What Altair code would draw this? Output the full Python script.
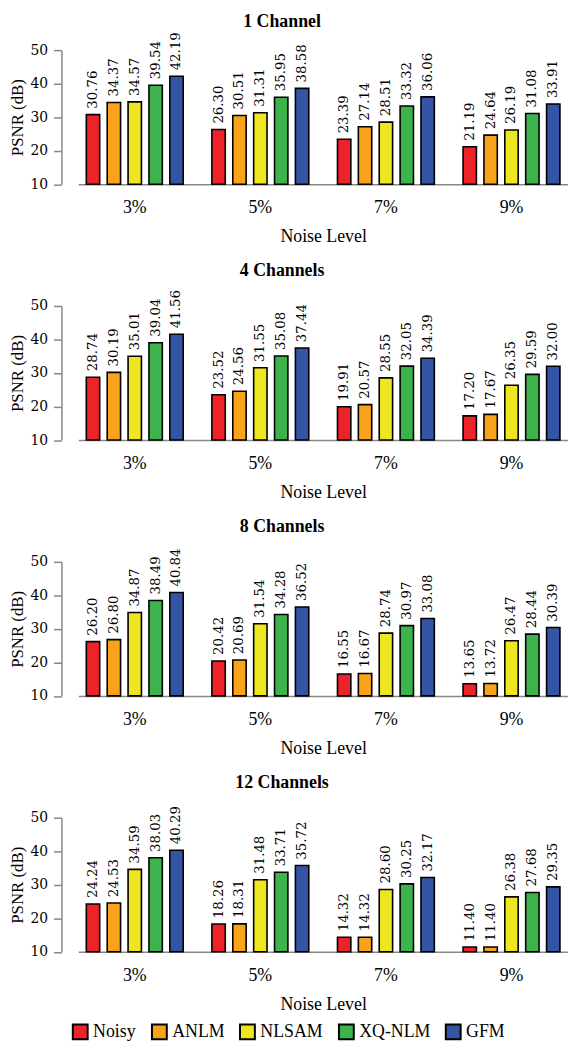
import altair as alt
import pandas as pd

methods = ["Noisy", "ANLM", "NLSAM", "XQ-NLM", "GFM"]
levels = ["3%", "5%", "7%", "9%"]
colors = ["#EE2229", "#F8A31B", "#EEE620", "#3CB44B", "#3454A5"]
panel_titles = ["1 Channel", "4 Channels", "8 Channels", "12 Channels"]

# values per noise level: Noisy, ANLM, NLSAM, XQ-NLM, GFM
ch1 = [
    [30.76, 34.37, 34.57, 39.54, 42.19],
    [26.30, 30.51, 31.31, 35.95, 38.58],
    [23.39, 27.14, 28.51, 33.32, 36.06],
    [21.19, 24.64, 26.19, 31.08, 33.91],
]
ch4 = [
    [28.74, 30.19, 35.01, 39.04, 41.56],
    [23.52, 24.56, 31.55, 35.08, 37.44],
    [19.91, 20.57, 28.55, 32.05, 34.39],
    [17.20, 17.67, 26.35, 29.59, 32.00],
]
ch8 = [
    [26.20, 26.80, 34.87, 38.49, 40.84],
    [20.42, 20.69, 31.54, 34.28, 36.52],
    [16.55, 16.67, 28.74, 30.97, 33.08],
    [13.65, 13.72, 26.47, 28.44, 30.39],
]
ch12 = [
    [24.24, 24.53, 34.59, 38.03, 40.29],
    [18.26, 18.31, 31.48, 33.71, 35.72],
    [14.32, 14.32, 28.60, 30.25, 32.17],
    [11.40, 11.40, 26.38, 27.68, 29.35],
]
y_ticks = [10, 20, 30, 40, 50]

SERIF = "Liberation Serif"
NUM = "DejaVu Serif"


def panel(title, vals, show_legend, title_gap):
    rows = []
    for li, lvl in enumerate(levels):
        for mi, m in enumerate(methods):
            rows.append({"level": lvl, "method": m, "psnr": vals[li][mi]})
    df = pd.DataFrame(rows)
    base = alt.Chart(df).encode(
        x=alt.X(
            "level:N",
            sort=levels,
            scale=alt.Scale(paddingInner=0.2, paddingOuter=0.05),
            axis=alt.Axis(title="Noise Level", labelAngle=0, ticks=False,
                          domainColor="#888888", domainWidth=1.5,
                          labelFont=SERIF, labelFontSize=18, labelPadding=15,
                          labelColor="black",
                          titleFont=SERIF, titleFontSize=18, titleFontWeight="normal",
                          titlePadding=11, titleColor="black"),
        ),
        xOffset=alt.XOffset("method:N", sort=methods,
                            scale=alt.Scale(paddingInner=0.36, paddingOuter=0.086)),
        y=alt.Y(
            "psnr:Q",
            scale=alt.Scale(domain=[10, 50], zero=False, nice=False),
            axis=alt.Axis(values=y_ticks, title="PSNR (dB)", grid=False, offset=17,
                          labelOverlap=False,
                          domainColor="#888888", domainWidth=1.5,
                          tickColor="#888888", tickWidth=1.5, tickSize=8,
                          labelFont=NUM, labelFontSize=14, labelPadding=6,
                          labelColor="black",
                          titleFont=SERIF, titleFontSize=17, titleFontWeight="normal",
                          titlePadding=4, titleColor="black"),
        ),
    )
    if show_legend:
        legend = alt.Legend(
            title=None, orient="none", direction="horizontal", columns=5,
            legendX=-7, legendY=983,
            symbolType="square", symbolSize=225, symbolStrokeColor="black",
            symbolStrokeWidth=2, symbolOpacity=1,
            labelFont=SERIF, labelFontSize=18, labelColor="black",
            labelOffset=4, columnPadding=11,
        )
    else:
        legend = None
    bars = base.mark_bar(stroke="black", strokeWidth=1.6).encode(
        y2=alt.datum(10),
        color=alt.Color("method:N", sort=methods,
                        scale=alt.Scale(domain=methods, range=colors),
                        legend=legend),
    )
    labels = base.mark_text(angle=270, align="left", baseline="middle", dx=6,
                            font=NUM, fontSize=13.5, color="black").encode(
        text=alt.Text("psnr:Q", format=".2f"),
    )
    ttl = alt.Chart(pd.DataFrame({"t": [title]})).mark_text(
        font=SERIF, fontSize=18, fontWeight="bold", color="black",
        align="center", baseline="middle",
    ).encode(text="t:N", x=alt.value(206), y=alt.value(-title_gap))
    return alt.layer(bars, labels, ttl).properties(width=495, height=135.5)


chart = alt.vconcat(
    panel(panel_titles[0], ch1, True, 28),
    panel(panel_titles[1], ch4, False, 35),
    panel(panel_titles[2], ch8, False, 35),
    panel(panel_titles[3], ch12, False, 35),
    spacing=122.6,
    bounds="flush",
).properties(padding=0).configure_view(stroke=None)

chart.save("out.html", embed_options={"renderer": "svg", "actions": False})
